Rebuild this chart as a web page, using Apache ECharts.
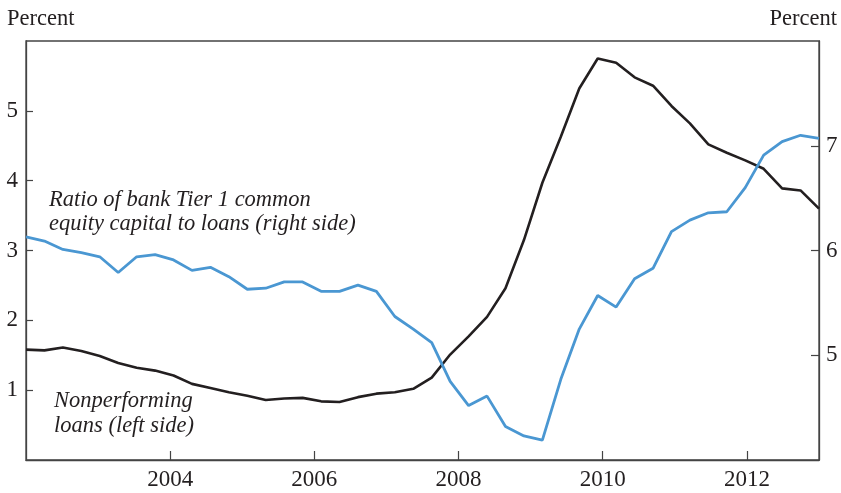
<!DOCTYPE html>
<html>
<head>
<meta charset="utf-8">
<script src="https://cdn.jsdelivr.net/npm/echarts@6/dist/echarts.min.js"></script>
<style>
  html, body { margin: 0; padding: 0; background: #fff; }
  #chart { width: 841px; height: 493px; }
</style>
</head>
<body>
<div id="chart"></div>
<script>
// quarterly observations, 2002Q1 - 2012Q4
const quarters = [
  '2002Q1','2002Q2','2002Q3','2002Q4','2003Q1','2003Q2','2003Q3','2003Q4',
  '2004Q1','2004Q2','2004Q3','2004Q4','2005Q1','2005Q2','2005Q3','2005Q4',
  '2006Q1','2006Q2','2006Q3','2006Q4','2007Q1','2007Q2','2007Q3','2007Q4',
  '2008Q1','2008Q2','2008Q3','2008Q4','2009Q1','2009Q2','2009Q3','2009Q4',
  '2010Q1','2010Q2','2010Q3','2010Q4','2011Q1','2011Q2','2011Q3','2011Q4',
  '2012Q1','2012Q2','2012Q3','2012Q4'
];

// Nonperforming loans, percent (left side)
const nonperforming = [
  1.58, 1.57, 1.61, 1.56, 1.49, 1.39, 1.32, 1.28,
  1.21, 1.09, 1.03, 0.97, 0.92, 0.86, 0.88, 0.89,
  0.84, 0.83, 0.90, 0.95, 0.97, 1.02, 1.18, 1.51,
  1.77, 2.05, 2.46, 3.15, 3.97, 4.63, 5.32, 5.75,
  5.69, 5.48, 5.36, 5.07, 4.82, 4.52, 4.40, 4.29,
  4.17, 3.89, 3.86, 3.60
];

// Tier 1 common equity capital to loans, percent (right side)
const tier1Ratio = [
  6.13, 6.09, 6.01, 5.98, 5.94, 5.79, 5.94, 5.96,
  5.91, 5.81, 5.84, 5.75, 5.63, 5.64, 5.70, 5.70,
  5.61, 5.61, 5.67, 5.61, 5.37, 5.25, 5.12, 4.75,
  4.52, 4.61, 4.32, 4.23, 4.19, 4.77, 5.25, 5.57,
  5.46, 5.73, 5.83, 6.18, 6.29, 6.36, 6.37, 6.60,
  6.91, 7.04, 7.10, 7.07
];

const yearRange = [2002, 2013];
const leftRange = [0, 6];
const rightRange = [4, 8];

const FONT = '"Liberation Serif", "DejaVu Serif", serif';
const INK = '#231f20';
const AXIS = '#444';

const chart = echarts.init(document.getElementById('chart'));
chart.setOption({
  animation: false,
  backgroundColor: '#fff',
  textStyle: { fontFamily: FONT, color: INK },
  grid: {
    left: 26, right: 22, top: 41, bottom: 33,
    show: true, borderColor: AXIS, borderWidth: 1.3,
    containLabel: false, outerBoundsMode: 'none'
  },
  xAxis: [
    {
      // quarterly data axis (not drawn)
      type: 'category', data: quarters, boundaryGap: false, show: false
    },
    {
      type: 'value', position: 'bottom',
      min: yearRange[0], max: yearRange[1], interval: 2,
      axisLine: { show: true, onZero: false, lineStyle: { color: AXIS, width: 1.3 } },
      axisTick: { show: true, inside: true, length: 9, lineStyle: { color: AXIS, width: 1.2 } },
      axisLabel: {
        showMinLabel: false, showMaxLabel: false, margin: 8,
        fontFamily: FONT, fontSize: 23, color: INK,
        formatter: v => String(v)
      },
      splitLine: { show: false }
    }
  ],
  yAxis: [
    {
      type: 'value', position: 'left',
      min: leftRange[0], max: leftRange[1], interval: 1,
      name: 'Percent', nameLocation: 'end', nameGap: 10,
      nameTextStyle: { fontFamily: FONT, fontSize: 22.5, color: INK, align: 'left', padding: [0, 0, 0, -19] },
      axisLine: { show: true, lineStyle: { color: AXIS, width: 1.3 } },
      axisTick: { show: true, inside: true, length: 7, lineStyle: { color: AXIS, width: 1.2 } },
      axisLabel: { showMinLabel: false, showMaxLabel: false, margin: 8, fontFamily: FONT, fontSize: 23, color: INK },
      splitLine: { show: false }
    },
    {
      type: 'value', position: 'right',
      min: rightRange[0], max: rightRange[1], interval: 1,
      name: 'Percent', nameLocation: 'end', nameGap: 10,
      nameTextStyle: { fontFamily: FONT, fontSize: 22.5, color: INK, align: 'right', padding: [0, -18, 0, 0] },
      axisLine: { show: true, lineStyle: { color: AXIS, width: 1.3 } },
      axisTick: { show: true, inside: true, length: 8, lineStyle: { color: AXIS, width: 1.2 } },
      axisLabel: { showMinLabel: false, showMaxLabel: false, margin: 7, fontFamily: FONT, fontSize: 23, color: INK },
      splitLine: { show: false }
    }
  ],
  graphic: [
    {
      type: 'text', left: 49, top: 188,
      style: {
        text: 'Ratio of bank Tier 1 common\nequity capital to loans (right side)',
        font: 'italic 22.5px ' + FONT, fill: INK, lineHeight: 24
      }
    },
    {
      type: 'text', left: 54, top: 389,
      style: {
        text: 'Nonperforming\nloans (left side)',
        font: 'italic 22.5px ' + FONT, fill: INK, lineHeight: 25
      }
    }
  ],
  series: [
    {
      name: 'Nonperforming loans (left side)',
      type: 'line', xAxisIndex: 0, yAxisIndex: 0,
      data: nonperforming, showSymbol: false, smooth: false,
      lineStyle: { color: INK, width: 2.6 }
    },
    {
      name: 'Ratio of bank Tier 1 common equity capital to loans (right side)',
      type: 'line', xAxisIndex: 0, yAxisIndex: 1,
      data: tier1Ratio, showSymbol: false, smooth: false,
      lineStyle: { color: '#4a97d2', width: 2.8 }
    }
  ]
});
</script>
</body>
</html>
